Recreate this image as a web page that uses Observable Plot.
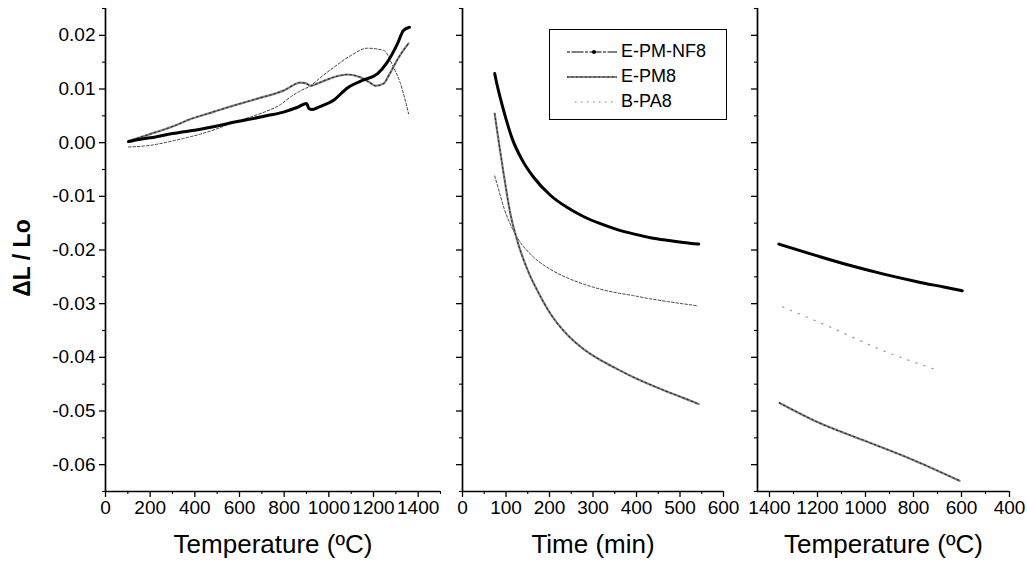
<!DOCTYPE html>
<html><head><meta charset="utf-8">
<script src="https://cdn.jsdelivr.net/npm/d3@7"></script>
<script src="https://cdn.jsdelivr.net/npm/@observablehq/plot@0.6"></script>
<style>
body{margin:0;background:#fff;font-family:Arial,"Liberation Sans",sans-serif;}
#chart{position:relative;width:1027px;height:567px;overflow:hidden;background:#fff;}
.panel{position:absolute;top:0;}
#legend{position:absolute;left:549px;top:29px;width:176px;height:89px;border:1.5px solid #000;background:#fff;z-index:5;}
.row{position:absolute;left:0;height:24px;display:flex;align-items:center;font-size:18px;color:#000;white-space:nowrap;}
.row svg{margin-left:17px;margin-right:4px;}
</style></head><body><div id="chart"></div>
<script>
// ---- series names ----
const seriesNames = ["E-PM-NF8", "E-PM8", "B-PA8"];

// ---- panel 1: heating, temperature (ºC) vs ΔL/Lo ----
const heatTempNF8 = [103,150,201,300,425,500,573,650,720,797,860,900,912,926,960,1021,1083,1156,1217,1262,1307,1334,1361];
const heatValNF8  = [0.0002,0.0006,0.0009,0.0017,0.0025,0.0031,0.0038,0.0044,0.0050,0.0057,0.0066,0.0073,0.0063,0.0062,0.0067,0.0079,0.0102,0.0117,0.0128,0.0150,0.0184,0.0209,0.0215];
const heatTempPM8 = [103,200,300,381,480,573,680,797,873,895,918,960,1021,1083,1141,1180,1209,1245,1268,1313,1357];
const heatValPM8  = [0.0003,0.0016,0.0030,0.0044,0.0057,0.0069,0.0082,0.0097,0.0112,0.0111,0.0106,0.0112,0.0122,0.0127,0.0122,0.0113,0.0106,0.0110,0.0125,0.0159,0.0185];
const heatTempPA8 = [103,200,276,350,425,500,573,650,723,780,828,870,918,970,1021,1097,1173,1245,1290,1321,1357];
const heatValPA8  = [-0.0008,-0.0005,0.0001,0.0008,0.0016,0.0026,0.0038,0.0048,0.0059,0.0070,0.0085,0.0096,0.0106,0.0124,0.0140,0.0162,0.0176,0.0172,0.0140,0.0110,0.0054];

// ---- panel 2: isothermal hold, time (min) ----
const holdTimeNF8 = [74,80,87,99,114,137,163,202,241,279,317,356,393,432,471,508,543];
const holdValNF8  = [0.0129,0.0106,0.0083,0.0047,0.0008,-0.0032,-0.0064,-0.0098,-0.0121,-0.0138,-0.0151,-0.0162,-0.0170,-0.0177,-0.0182,-0.0186,-0.0189];
const holdTimePM8 = [74,80,87,95,110,126,149,175,200,241,279,317,356,393,432,471,509,543];
const holdValPM8  = [0.0054,0.0020,-0.0018,-0.0060,-0.0132,-0.0183,-0.0236,-0.0280,-0.0316,-0.0358,-0.0385,-0.0405,-0.0422,-0.0437,-0.0451,-0.0464,-0.0476,-0.0487];
const holdTimePA8 = [74,84,95,110,126,163,202,241,280,317,356,393,432,471,505,540];
const holdValPA8  = [-0.0062,-0.0090,-0.0121,-0.0152,-0.0177,-0.0213,-0.0236,-0.0252,-0.0264,-0.0273,-0.0280,-0.0285,-0.0291,-0.0296,-0.0300,-0.0304];

// ---- panel 3: cooling, temperature (ºC) ----
const coolTempNF8 = [1361,1201,1063,924,785,674,597];
const coolValNF8  = [-0.0189,-0.0211,-0.0229,-0.0245,-0.0259,-0.0269,-0.0276];
const coolTempPM8 = [1358,1208,1000,792,608];
const coolValPM8  = [-0.0485,-0.0519,-0.0556,-0.0593,-0.0630];
const coolTempPA8 = [1346,1150,929,700];
const coolValPA8  = [-0.0306,-0.0343,-0.0387,-0.0424];

// ---- ticks and titles ----
const yTicks = [-0.06,-0.05,-0.04,-0.03,-0.02,-0.01,0,0.01,0.02];
const yMinor = [-0.065,-0.055,-0.045,-0.035,-0.025,-0.015,-0.005,0.005,0.015,0.025];
const heatTicks = [0,200,400,600,800,1000,1200,1400];
const heatMinor = [100,300,500,700,900,1100,1300,1500];
const timeTicks = [0,100,200,300,400,500,600];
const timeMinor = [50,150,250,350,450,550];
const coolTicks = [1400,1200,1000,800,600,400];
const coolMinor = [1300,1100,900,700,500];
const yTitle = "ΔL / Lo";
const xTitles = ["Temperature (ºC)", "Time (min)", "Temperature (ºC)"];

const rows = (xs, ys) => xs.map((x, i) => ({x, y: ys[i]}));
const font = "Arial, 'Liberation Sans', sans-serif";

function styleLines(nf8, pm8, pa8, faintPA) {
  return [
    Plot.line(pa8, {x: "x", y: "y", curve: "monotone-x", stroke: faintPA ? "#9a9a9a" : "#404040", strokeWidth: faintPA ? 1.2 : 1, strokeDasharray: faintPA ? "1.5,7" : "2.5,2"}),
    Plot.line(pm8, {x: "x", y: "y", curve: "monotone-x", stroke: "#808080", strokeWidth: 2.2}),
    Plot.line(pm8, {x: "x", y: "y", curve: "monotone-x", stroke: "#2a2a2a", strokeWidth: 1.1, strokeDasharray: "1.5,3"}),
    Plot.line(nf8, {x: "x", y: "y", curve: "monotone-x", stroke: "#000", strokeWidth: 3})
  ];
}

function panel({left, width, ml, mr, xDomain, xTicks, xMinor, xTitle, showY, lines, extra}) {
  const svg = Plot.plot({
    width, height: 567,
    marginTop: 8, marginBottom: 76, marginLeft: ml, marginRight: mr,
    x: {domain: xDomain, label: null},
    y: {domain: [-0.065, 0.025], label: null},
    style: {fontFamily: font, fontSize: "19px", color: "#000", background: "transparent", overflow: "visible"},
    marks: [
      Plot.axisX(xTicks, {tickSize: 6, tickPadding: 3, fontSize: 19, strokeWidth: 1.3, tickFormat: d => String(d), label: null}),
      Plot.axisX(xMinor, {tickSize: 3, strokeWidth: 1.1, tickFormat: () => "", label: null}),
      Plot.axisY(yTicks, {tickSize: 6, tickPadding: 4, fontSize: 19, strokeWidth: 1.3, tickFormat: showY ? (d => d.toFixed(2)) : (() => ""), label: null}),
      Plot.axisY(yMinor, {tickSize: 3, strokeWidth: 1.1, tickFormat: () => "", label: null}),
      Plot.ruleX([xDomain[0]], {stroke: "#000", strokeWidth: 1.7}),
      Plot.ruleY([-0.065], {stroke: "#000", strokeWidth: 1.7}),
      ...lines,
      Plot.text([xTitle], {frameAnchor: "bottom", lineAnchor: "middle", textAnchor: "middle", dy: 53, fontSize: 26, text: d => d, fill: "#000"}),
      ...(extra || [])
    ]
  });
  svg.classList.add("panel");
  svg.style.left = left + "px";
  document.getElementById("chart").appendChild(svg);
}

panel({left: 0, width: 460, ml: 105, mr: 20, xDomain: [0, 1500], xTicks: heatTicks, xMinor: heatMinor, xTitle: xTitles[0], showY: true,
  lines: styleLines(rows(heatTempNF8, heatValNF8), rows(heatTempPM8, heatValPM8), rows(heatTempPA8, heatValPA8), false),
  extra: [Plot.text([yTitle], {frameAnchor: "left", textAnchor: "middle", lineAnchor: "middle", rotate: -90, dx: -83, dy: 8, fontSize: 23, fontWeight: "bold", text: d => d, fill: "#000"})]});

panel({left: 450, width: 280, ml: 12, mr: 7, xDomain: [0, 600], xTicks: timeTicks, xMinor: timeMinor, xTitle: xTitles[1], showY: false,
  lines: styleLines(rows(holdTimeNF8, holdValNF8), rows(holdTimePM8, holdValPM8), rows(holdTimePA8, holdValPA8), false)});

panel({left: 740, width: 287, ml: 17, mr: 18, xDomain: [1450, 400], xTicks: coolTicks, xMinor: coolMinor, xTitle: xTitles[2], showY: false,
  lines: styleLines(rows(coolTempNF8, coolValNF8), rows(coolTempPM8, coolValPM8), rows(coolTempPA8, coolValPA8), true)});

// ---- legend ----
const legend = document.createElement("div");
legend.id = "legend";
const sampleSvgs = [
  '<line x1="0" y1="5" x2="50" y2="5" stroke="#000" stroke-width="1" stroke-dasharray="3,1.5,12,1.5"/><circle cx="27" cy="5" r="2" fill="#000"/>',
  '<line x1="0" y1="5" x2="50" y2="5" stroke="#808080" stroke-width="2"/><line x1="0" y1="5" x2="50" y2="5" stroke="#222" stroke-width="1" stroke-dasharray="1.5,3"/>',
  '<line x1="8" y1="5" x2="50" y2="5" stroke="#777" stroke-width="1" stroke-dasharray="1.5,4.5"/>'
];
seriesNames.forEach((name, i) => {
  const row = document.createElement("div");
  row.className = "row";
  row.style.top = (52 + 25 * i - 29 - 1.5 - 12) + "px";
  row.innerHTML = `<svg width="50" height="10">${sampleSvgs[i]}</svg><span>${name}</span>`;
  legend.appendChild(row);
});
document.getElementById("chart").appendChild(legend);
</script>
</body></html>
